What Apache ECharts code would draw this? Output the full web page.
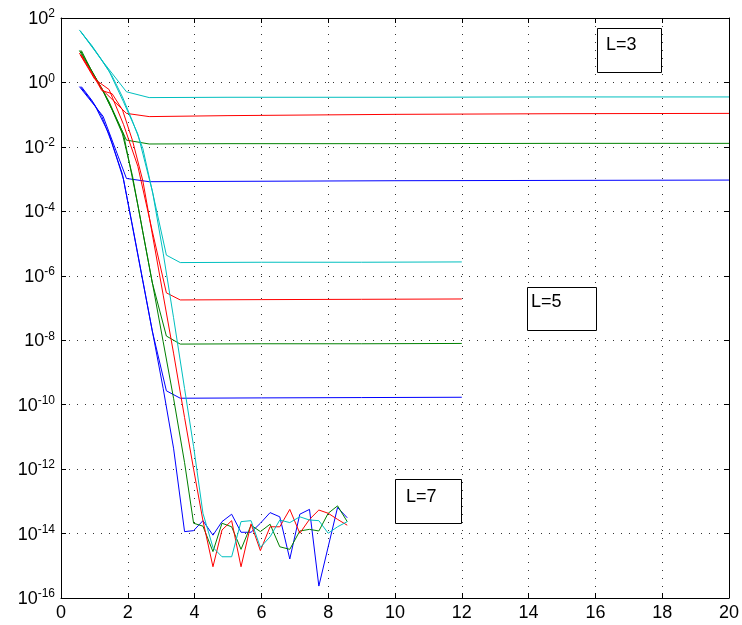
<!DOCTYPE html>
<html>
<head>
<meta charset="utf-8">
<script src="https://cdn.jsdelivr.net/npm/echarts@6/dist/echarts.min.js"></script>
<style>
html, body { margin: 0; padding: 0; background: #fff; }
#errPlot { width: 742px; height: 625px; }
</style>
</head>
<body>
<div id="errPlot"></div>
<script>
// y values are log10 of the error
const x3 = [0.55, 1.26, 1.96, 2.64, 5, 10, 15, 20];
const blue3 = [-0.13, -1.05, -2.98, -3.08, -3.07, -3.05, -3.04, -3.03];
const green3 = [0.99, -0.25, -1.79, -1.91, -1.90, -1.90, -1.89, -1.89];
const red3 = [0.91, -0.25, -0.96, -1.06, -1.03, -0.99, -0.97, -0.96];
const cyan3 = [1.63, 0.64, -0.29, -0.47, -0.46, -0.46, -0.45, -0.45];

const x5 = [0.58, 1.01, 1.44, 1.87, 2.30, 2.73, 3.155, 3.57, 6, 9, 12];
const blue5 = [-0.13, -0.7, -1.6, -3.0, -5.35, -7.7, -9.57, -9.80, -9.79, -9.78, -9.77];
const green5 = [0.99, 0.2, -0.6, -1.6, -3.8, -6.2, -7.87, -8.12, -8.11, -8.11, -8.10];
const red5 = [0.85, 0.1, -0.22, -1.3, -2.6, -4.6, -6.53, -6.75, -6.74, -6.73, -6.72];
const cyan5 = [1.6, 1.0, 0.35, -0.6, -1.6, -3.35, -5.36, -5.59, -5.58, -5.58, -5.57];

const x7 = [0.61, 0.92, 1.22, 1.53, 1.84, 2.14, 2.45, 2.75, 3.06, 3.37, 3.70, 3.97, 4.25, 4.55,
            4.82, 5.11, 5.39, 5.69, 5.97, 6.26, 6.55, 6.85, 7.15, 7.44, 7.72, 8.0, 8.28, 8.57];
const blue7 = [-0.13, -0.55, -1.05, -1.9, -2.85, -4.45, -6.15, -7.8, -9.5, -11.35, -13.94, -13.91, -13.60, -14.05,
               -13.63, -13.40, -13.96, -13.96, -13.68, -13.35, -13.48, -14.79, -13.40, -13.25, -15.63, -14.41, -13.19, -13.51];
const green7 = [0.99, 0.35, -0.2, -0.85, -1.6, -2.9, -4.65, -6.3, -8.05, -9.8, -11.8, -13.68, -13.77, -14.56,
                -13.68, -13.79, -14.49, -13.74, -13.94, -13.71, -14.41, -14.49, -13.92, -13.87, -13.92, -13.37, -13.14, -13.63];
const red7 = [0.85, 0.3, -0.25, -0.35, -0.85, -1.8, -3.05, -4.8, -6.6, -8.4, -10.4, -12.0, -13.6, -15.03,
              -13.89, -13.60, -15.03, -13.70, -14.53, -13.79, -13.79, -13.25, -13.99, -13.56, -13.27, -13.37, -13.56, -13.74];
const cyan7 = [1.55, 1.15, 0.7, 0.2, -0.45, -1.2, -2.05, -3.45, -5.3, -7.3, -9.5, -11.3, -13.37, -14.43,
               -14.72, -14.72, -13.63, -13.60, -14.43, -14.10, -13.58, -13.66, -13.48, -13.58, -13.60, -13.99, -13.79, -13.63];

const xTicks = [0, 20, 2];
const yTicks = [-16, 2, 2];

const font = 'Liberation Sans';
const colors = { blue: '#0000ff', green: '#008000', red: '#ff0000', cyan: '#00bfbf' };

function pairs(xs, ys) {
    return xs.map((x, i) => [x, ys[i]]);
}
function line(xs, ys, color) {
    return {
        type: 'line',
        data: pairs(xs, ys),
        symbol: 'none',
        lineStyle: { width: 1, color: color },
        itemStyle: { color: color },
        silent: true
    };
}

const axisCommon = {
    type: 'value',
    axisLine: { show: true, onZero: false, lineStyle: { color: '#000', width: 1 } },
    axisTick: { show: true, inside: true, length: 5, lineStyle: { color: '#000' } }
};
const gridDots = { show: true, lineStyle: { color: '#333', width: 1, type: [1, 7] } };

let myChart = echarts.init(document.getElementById('errPlot'));
myChart.setOption({
    animation: false,
    backgroundColor: '#fff',
    grid: { left: 61, right: 11, top: 18, bottom: 27, containLabel: false },
    xAxis: [
        Object.assign({}, axisCommon, {
            position: 'bottom', min: xTicks[0], max: xTicks[1], interval: xTicks[2],
            axisLabel: { color: '#000', fontSize: 18, fontFamily: font, margin: 6 },
            splitLine: gridDots
        }),
        Object.assign({}, axisCommon, {
            position: 'top', min: xTicks[0], max: xTicks[1], interval: xTicks[2],
            axisLabel: { show: false }, splitLine: { show: false }
        })
    ],
    yAxis: [
        Object.assign({}, axisCommon, {
            position: 'left', min: yTicks[0], max: yTicks[1], interval: yTicks[2],
            axisLabel: {
                color: '#000', margin: 6,
                formatter: function (v) { return '{b|10}{s|' + v + '}'; },
                rich: {
                    b: { fontSize: 18, fontFamily: font, color: '#000', lineHeight: 20, verticalAlign: 'bottom' },
                    s: { fontSize: 12, fontFamily: font, color: '#000', lineHeight: 12, verticalAlign: 'top' }
                }
            },
            splitLine: gridDots
        }),
        Object.assign({}, axisCommon, {
            position: 'right', min: yTicks[0], max: yTicks[1], interval: yTicks[2],
            axisLabel: { show: false }, splitLine: { show: false }
        })
    ],
    series: [
        line(x3, blue3, colors.blue), line(x5, blue5, colors.blue), line(x7, blue7, colors.blue),
        line(x3, green3, colors.green), line(x5, green5, colors.green), line(x7, green7, colors.green),
        line(x3, red3, colors.red), line(x5, red5, colors.red), line(x7, red7, colors.red),
        line(x3, cyan3, colors.cyan), line(x5, cyan5, colors.cyan), line(x7, cyan7, colors.cyan)
    ],
    graphic: [
        { type: 'rect', shape: { x: 597.5, y: 28.5, width: 64, height: 44 }, style: { fill: '#fff', stroke: '#000', lineWidth: 1 }, z: 100 },
        { type: 'text', x: 606, y: 45, style: { text: 'L=3', fontSize: 18, fontFamily: font, fill: '#000', verticalAlign: 'middle' }, z: 101 },
        { type: 'rect', shape: { x: 527.5, y: 287.5, width: 69, height: 43 }, style: { fill: '#fff', stroke: '#000', lineWidth: 1 }, z: 100 },
        { type: 'text', x: 531, y: 302, style: { text: 'L=5', fontSize: 18, fontFamily: font, fill: '#000', verticalAlign: 'middle' }, z: 101 },
        { type: 'rect', shape: { x: 395.5, y: 479.5, width: 66, height: 44 }, style: { fill: '#fff', stroke: '#000', lineWidth: 1 }, z: 100 },
        { type: 'text', x: 406, y: 497, style: { text: 'L=7', fontSize: 18, fontFamily: font, fill: '#000', verticalAlign: 'middle' }, z: 101 }
    ]
});
window.addEventListener("resize", function () {
    myChart.resize();
});
</script>
</body>
</html>
